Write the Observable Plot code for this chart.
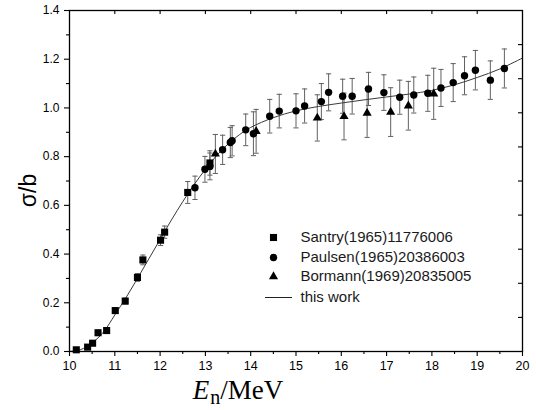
<!DOCTYPE html>
<html>
<head>
<meta charset="utf-8">
<script src="https://cdn.jsdelivr.net/npm/d3@7"></script>
<script src="https://cdn.jsdelivr.net/npm/@observablehq/plot@0.6"></script>
<style>
  html, body { margin: 0; padding: 0; background: white; }
  #chart { width: 536px; height: 410px; }
</style>
</head>
<body>
<div id="chart"></div>
<script>
// ---- Data ----
const santryE   = [10.15, 10.40, 10.51, 10.63, 10.82, 11.01, 11.23, 11.50, 11.62, 12.01, 12.10, 12.61, 13.10];
const santryS   = [0.007, 0.018, 0.034, 0.077, 0.086, 0.168, 0.207, 0.304, 0.376, 0.457, 0.490, 0.653, 0.774];
const santryErr = [0.006, 0.006, 0.008, 0.010, 0.010, 0.010, 0.012, 0.016, 0.020, 0.022, 0.025, 0.045, 0.050];

const paulsenE   = [12.77, 12.99, 13.10, 13.38, 13.55, 13.59, 13.89, 14.06, 14.42, 14.63, 15.00, 15.19, 15.56, 15.72, 16.03, 16.24, 16.60, 16.94, 17.29, 17.60, 17.91, 18.20, 18.47, 18.72, 18.96, 19.29, 19.60];
const paulsenS   = [0.672, 0.748, 0.760, 0.828, 0.858, 0.865, 0.910, 0.894, 0.966, 0.987, 0.988, 1.008, 1.026, 1.064, 1.048, 1.048, 1.078, 1.063, 1.044, 1.053, 1.060, 1.082, 1.104, 1.132, 1.155, 1.114, 1.162];
const paulsenErr = [0.048, 0.053, 0.055, 0.060, 0.062, 0.062, 0.065, 0.090, 0.069, 0.069, 0.070, 0.070, 0.074, 0.076, 0.070, 0.073, 0.068, 0.073, 0.070, 0.074, 0.074, 0.076, 0.078, 0.078, 0.081, 0.079, 0.080];

const bormannE   = [13.22, 14.12, 15.47, 16.06, 16.57, 17.09, 17.48, 18.04];
const bormannS   = [0.811, 0.904, 0.959, 0.965, 0.979, 0.983, 1.009, 1.058];
const bormannErr = [0.080, 0.090, 0.095, 0.096, 0.100, 0.100, 0.100, 0.105];

const workE = [10.0, 10.25, 10.5, 10.75, 11.0, 11.25, 11.5, 11.75, 12.0, 12.25, 12.5, 12.75, 13.0, 13.25, 13.5, 13.75, 14.0, 14.5, 15.0, 15.5, 16.0, 16.5, 17.0, 17.5, 18.0, 18.5, 19.0, 19.5, 20.0];
const workS = [0.0, 0.008, 0.035, 0.080, 0.150, 0.222, 0.300, 0.380, 0.460, 0.540, 0.615, 0.685, 0.748, 0.805, 0.852, 0.890, 0.920, 0.960, 0.988, 1.006, 1.020, 1.033, 1.045, 1.057, 1.072, 1.095, 1.125, 1.160, 1.205];

const xMajorTicks = [10, 11, 12, 13, 14, 15, 16, 17, 18, 19, 20];
const xMinorTicks = [10.5, 11.5, 12.5, 13.5, 14.5, 15.5, 16.5, 17.5, 18.5, 19.5];
const yMajorTicks = [0, 0.2, 0.4, 0.6, 0.8, 1.0, 1.2, 1.4];
const yMinorTicks = [0.1, 0.3, 0.5, 0.7, 0.9, 1.1, 1.3];
const topTicks    = [11, 12, 13, 14, 15, 16, 17, 18, 19];
const rightTicks  = [0.14, 0.28, 0.42, 0.56, 0.70, 0.84, 0.98, 1.12, 1.26];

const legendLabels = ["Santry(1965)11776006", "Paulsen(1965)20386003", "Bormann(1969)20835005", "this work"];

// ---- build tables ----
const rows = (E, S, Err) => E.map((e, i) => ({E: e, s: S[i], err: Err[i]}));
const santry  = rows(santryE, santryS, santryErr);
const paulsen = rows(paulsenE, paulsenS, paulsenErr);
const bormann = rows(bormannE, bormannS, bormannErr);
const work    = workE.map((e, i) => ({E: e, s: workS[i]}));

// horizontal-bar symbol for error-bar caps and legend line
const hbar = {
  draw(ctx, size) {
    const w = Math.sqrt(size / Math.PI);
    ctx.moveTo(-w, 0);
    ctx.lineTo(w, 0);
  }
};

const W = 536, H = 410;
const mL = 69, mR = 14, mT = 10, mB = 59;
const innerW = W - mL - mR, innerH = H - mT - mB;
const errColor = "#606060";

function errMarks(data) {
  return [
    Plot.ruleX(data, {x: "E", y1: d => d.s - d.err, y2: d => d.s + d.err, stroke: errColor, strokeWidth: 1}),
    Plot.dot(data, {x: "E", y: d => d.s + d.err, symbol: hbar, r: 2.6, stroke: errColor, fill: "none", strokeWidth: 1}),
    Plot.dot(data, {x: "E", y: d => d.s - d.err, symbol: hbar, r: 2.6, stroke: errColor, fill: "none", strokeWidth: 1})
  ];
}

const legendX = 273 - mL, legendTextX = 300 - mL;
const legendY = [237, 257, 276, 297].map(v => v - mT);
const legendSym = ["square", "circle", "triangle"];
const legendR = [4.0, 3.7, 3.4];

const legendMarks = [];
legendLabels.forEach((lab, i) => {
  if (i < 3) {
    legendMarks.push(Plot.dot([lab], {frameAnchor: "top-left", dx: legendX, dy: legendY[i], symbol: legendSym[i], r: legendR[i], fill: "black", stroke: "none"}));
  } else {
    legendMarks.push(Plot.dot([lab], {frameAnchor: "top-left", dx: legendX + 5, dy: legendY[i], symbol: hbar, r: 13.5, stroke: "#222", fill: "none", strokeWidth: 1}));
  }
  legendMarks.push(Plot.text([lab], {frameAnchor: "top-left", dx: legendTextX, dy: legendY[i], text: d => d, textAnchor: "start", lineAnchor: "middle", fontSize: 15, fill: "#1a1a1a"}));
});

const chart = Plot.plot({
  width: W,
  height: H,
  marginLeft: mL,
  marginRight: mR,
  marginTop: mT,
  marginBottom: mB,
  style: {fontFamily: "'Liberation Sans', Arial, sans-serif", color: "black", background: "white"},
  x: {domain: [10, 20], label: null},
  y: {domain: [0, 1.4], label: null},
  marks: [
    Plot.axisX({ticks: xMajorTicks, tickSize: 5, tickPadding: 5, tickFormat: d3.format("d"), fontSize: 12.5, label: null, strokeWidth: 1.1}),
    Plot.axisX({ticks: xMinorTicks, tickSize: 3, tickFormat: () => "", label: null, strokeWidth: 1.1}),
    Plot.axisY({ticks: yMajorTicks, tickSize: 5, tickPadding: 5, tickFormat: d3.format(".1f"), fontSize: 12, label: null, strokeWidth: 1.1}),
    Plot.axisY({ticks: yMinorTicks, tickSize: 3, tickFormat: () => "", label: null, strokeWidth: 1.1}),
    Plot.tickX(topTicks, {x: d => d, insetBottom: innerH - 4, stroke: "black", strokeWidth: 1.1}),
    Plot.tickY(rightTicks, {y: d => d, insetLeft: innerW - 4, stroke: "black", strokeWidth: 1.1}),
    ...errMarks(bormann),
    ...errMarks(paulsen),
    ...errMarks(santry),
    Plot.line(work, {x: "E", y: "s", curve: "catmull-rom", stroke: "#3a3a3a", strokeWidth: 1}),
    Plot.dot(santry, {x: "E", y: "s", symbol: "square", r: 4.0, fill: "black", stroke: "none"}),
    Plot.dot(paulsen, {x: "E", y: "s", symbol: "circle", r: 3.7, fill: "black", stroke: "none"}),
    Plot.dot(bormann, {x: "E", y: "s", symbol: "triangle", r: 3.4, fill: "black", stroke: "none"}),
    ...legendMarks,
    Plot.text(["σ/b"], {frameAnchor: "left", dx: 28 - mL, dy: 190 - (mT + innerH / 2), rotate: -90, text: d => d, fontSize: 23, fill: "black", textAnchor: "middle", lineAnchor: "middle"}),
    Plot.frame({stroke: "black", strokeWidth: 1.3})
  ]
});

document.getElementById("chart").appendChild(chart);

// x-axis title with italic E and subscript n
const svg = d3.select(chart);
const t = svg.append("text")
  .attr("x", 238)
  .attr("y", 399)
  .attr("font-family", "'Liberation Serif', 'Times New Roman', serif")
  .attr("font-size", 27)
  .attr("fill", "black");
t.append("tspan").attr("font-style", "italic").text("E");
t.append("tspan").attr("font-size", 20).attr("dy", 5).attr("dx", 1).text("n");
t.append("tspan").attr("dy", -5).text("/MeV");
</script>
</body>
</html>
